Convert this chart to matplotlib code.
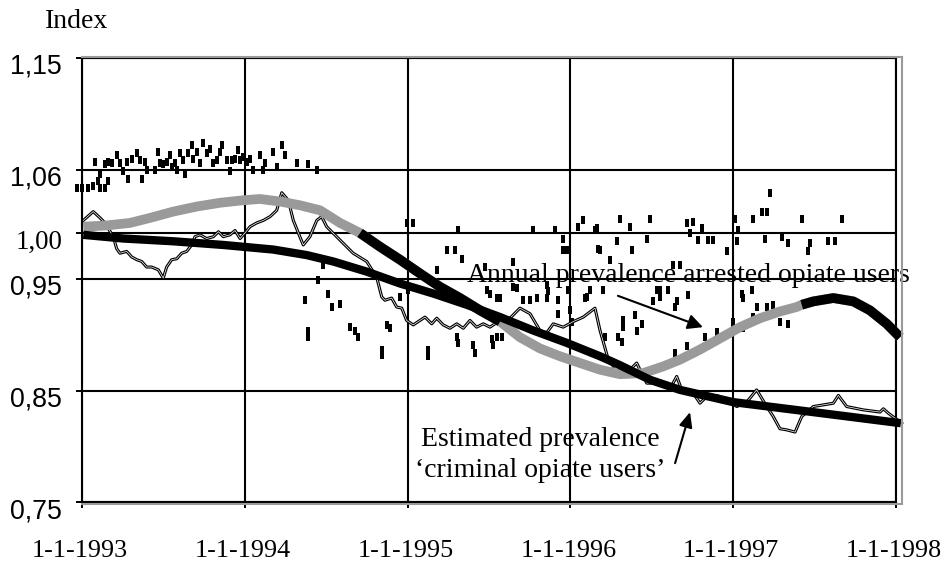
import numpy as np
import matplotlib
matplotlib.use("Agg")
import matplotlib.pyplot as plt
from matplotlib.transforms import ScaledTranslation

# ---------------- data ----------------
# y-axis tick values and their labels
tick_vals = [0.75, 0.85, 0.95, 1.00, 1.05, 1.15]
tick_labels = ["0,75", "0,85", "0,95", "1,00", "1,06", "1,15"]
# x-axis: start of each year
year_ticks = [1993, 1994, 1995, 1996, 1997, 1998]
year_labels = ["1-1-1993", "1-1-1994", "1-1-1995", "1-1-1996", "1-1-1997", "1-1-1998"]

# weekly index of arrests (scattered marks)
pts_t = [1992.967, 1992.998, 1993.039, 1993.070, 1993.100, 1993.111, 1993.141, 1993.162,
         1993.080, 1993.111, 1993.141, 1993.162, 1993.182, 1993.213, 1993.233, 1993.254,
         1993.278, 1993.284, 1993.305, 1993.336, 1993.356, 1993.367, 1993.387, 1993.397,
         1993.448, 1993.469, 1993.479, 1993.499, 1993.520, 1993.541, 1993.551, 1993.571,
         1993.582, 1993.602, 1993.622, 1993.633, 1993.653, 1993.674, 1993.684, 1993.704,
         1993.725, 1993.745, 1993.766, 1993.786, 1993.807, 1993.827, 1993.848, 1993.858,
         1993.889, 1993.909, 1993.919, 1993.940, 1993.960, 1993.971, 1993.991, 1994.012,
         1994.032, 1994.052, 1994.093, 1994.114, 1994.124, 1994.175, 1994.196, 1994.227,
         1994.247, 1994.319, 1994.390, 1994.442, 1994.482,
         1994.370, 1994.390, 1994.390, 1994.451, 1994.513, 1994.534, 1994.585, 1994.646,
         1994.677, 1994.697, 1994.872, 1994.892, 1994.841, 1994.841, 1994.953, 1994.994,
         1995.035, 1995.004, 1995.127, 1995.127, 1995.179, 1995.240, 1995.291, 1995.311,
         1995.332, 1995.302, 1995.311, 1995.404, 1995.414, 1995.475, 1995.486, 1995.506,
         1995.547, 1995.568, 1995.517, 1995.526, 1995.547, 1995.578, 1995.649, 1995.649,
         1995.670, 1995.711, 1995.752, 1995.772, 1995.793, 1995.854, 1995.864, 1995.854,
         1995.905, 1995.926, 1995.926, 1995.956, 1995.956, 1995.977, 1995.987, 1995.998,
         1996.008, 1996.049, 1996.079, 1996.100, 1996.120, 1996.151, 1996.171,
         1996.162, 1996.182, 1996.243, 1996.284, 1996.305, 1996.366, 1996.380, 1996.469,
         1996.489, 1996.550, 1996.550, 1996.601, 1996.632, 1996.673, 1996.653, 1996.643,
         1996.724, 1996.714, 1996.735, 1996.755, 1996.786, 1996.807, 1996.847, 1996.878,
         1996.960, 1997.011, 1997.022, 1997.031, 1997.052, 1997.062, 1997.114, 1997.123,
         1997.175, 1997.205, 1997.226, 1997.195, 1997.298, 1997.338, 1997.421, 1997.472,
         1997.461, 1997.584, 1997.625, 1997.666,
         1996.090, 1996.202, 1996.325, 1996.325, 1996.397, 1996.438, 1996.407, 1996.509,
         1996.530, 1996.294, 1996.315, 1996.213, 1996.827, 1996.899, 1996.714, 1996.643,
         1997.001, 1997.001, 1997.062, 1997.123, 1997.206, 1997.246, 1997.144, 1997.287,
         1997.338]
pts_v = [1.036, 1.036, 1.036, 1.037, 1.041, 1.036, 1.036, 1.041,
         1.057, 1.047, 1.055, 1.057, 1.056, 1.063, 1.056, 1.049,
         1.057, 1.043, 1.060, 1.065, 1.059, 1.043, 1.057, 1.050,
         1.050, 1.066, 1.056, 1.055, 1.057, 1.063, 1.053, 1.056,
         1.050, 1.065, 1.059, 1.047, 1.065, 1.072, 1.060, 1.066,
         1.056, 1.074, 1.065, 1.069, 1.056, 1.059, 1.066, 1.072,
         1.059, 1.049, 1.059, 1.060, 1.068, 1.059, 1.062, 1.057,
         1.060, 1.050, 1.063, 1.050, 1.056, 1.066, 1.053, 1.072,
         1.063, 1.056, 1.055, 1.050, 0.965,
         0.931, 0.904, 0.898, 0.949, 0.937, 0.925, 0.928, 0.907,
         0.904, 0.898, 0.909, 0.906, 0.887, 0.882, 0.934, 1.008,
         1.008, 0.940, 0.887, 0.881, 0.960, 0.982, 0.982, 1.002,
         0.972, 0.898, 0.893, 0.891, 0.884, 0.963, 0.940, 0.937,
         0.933, 0.933, 0.896, 0.891, 0.898, 0.898, 0.969, 0.943,
         0.942, 0.931, 0.931, 1.002, 0.933, 0.945, 0.939, 0.933,
         1.002, 0.931, 0.919, 0.994, 0.982, 0.982, 0.940, 0.922,
         0.912, 1.005, 1.010, 0.934, 0.940, 1.002, 0.983,
         1.004, 0.982, 0.971, 0.991, 1.011, 1.005, 0.982, 0.993,
         1.011, 0.940, 0.934, 0.940, 0.965, 0.965, 0.930, 0.925,
         0.936, 1.008, 1.000, 1.009, 0.992, 1.004, 0.992, 0.992,
         0.980, 1.011, 0.991, 1.002, 0.937, 0.933, 0.940, 1.011,
         1.017, 1.017, 1.032, 0.994, 0.996, 0.989, 1.011, 0.989,
         0.980, 0.991, 0.991, 1.011,
         0.933, 0.940, 0.907, 0.913, 0.918, 0.910, 0.904, 0.930,
         0.940, 0.898, 0.894, 0.898, 0.898, 0.903, 0.890, 0.884,
         0.912, 0.906, 0.906, 0.916, 0.925, 0.927, 0.925, 0.912,
         0.910]

# moving index of arrested opiate users (thin line)
thin_t = [1993.008, 1993.069, 1993.111, 1993.141, 1993.192, 1993.213, 1993.233, 1993.275,
          1993.305, 1993.336, 1993.367, 1993.397, 1993.428, 1993.469, 1993.499, 1993.520,
          1993.551, 1993.582, 1993.612, 1993.643, 1993.674, 1993.694, 1993.725, 1993.766,
          1993.807, 1993.838, 1993.868, 1993.909, 1993.940, 1993.971, 1994.001, 1994.032,
          1994.073, 1994.114, 1994.155, 1994.196, 1994.227, 1994.267, 1994.298, 1994.329,
          1994.359, 1994.400, 1994.442, 1994.472, 1994.503, 1994.564, 1994.626, 1994.666,
          1994.749, 1994.810, 1994.841, 1994.861, 1994.902, 1994.933, 1994.964, 1994.994,
          1995.035, 1995.076, 1995.107, 1995.148, 1995.179, 1995.219, 1995.260, 1995.302,
          1995.342, 1995.383, 1995.424, 1995.465, 1995.506, 1995.568, 1995.629, 1995.690,
          1995.752, 1995.813, 1995.854, 1995.895, 1995.956, 1996.018, 1996.079, 1996.151,
          1996.182, 1996.233, 1996.264, 1996.305, 1996.366, 1996.407, 1996.469, 1996.530,
          1996.612, 1996.653, 1996.684, 1996.755, 1996.796, 1996.837, 1996.899, 1996.960,
          1997.022, 1997.083, 1997.144, 1997.206, 1997.246, 1997.287, 1997.328, 1997.380,
          1997.421, 1997.492, 1997.615, 1997.646, 1997.697, 1997.799, 1997.902, 1997.922,
          1997.953, 1998.035]
thin_v = [1.010, 1.017, 1.012, 1.008, 0.996, 0.983, 0.978, 0.980,
          0.974, 0.971, 0.969, 0.963, 0.963, 0.960, 0.951, 0.963,
          0.971, 0.972, 0.978, 0.980, 0.987, 0.996, 0.998, 0.994,
          0.996, 1.001, 0.996, 0.998, 1.002, 0.994, 1.000, 1.005,
          1.008, 1.010, 1.013, 1.018, 1.032, 1.026, 1.010, 1.000,
          0.987, 0.996, 1.010, 1.013, 1.005, 0.996, 0.985, 0.978,
          0.969, 0.952, 0.934, 0.931, 0.933, 0.925, 0.924, 0.913,
          0.909, 0.913, 0.916, 0.910, 0.915, 0.909, 0.906, 0.910,
          0.906, 0.913, 0.907, 0.910, 0.907, 0.913, 0.915, 0.924,
          0.919, 0.904, 0.902, 0.910, 0.907, 0.912, 0.916, 0.924,
          0.904, 0.878, 0.872, 0.875, 0.869, 0.875, 0.857, 0.857,
          0.852, 0.863, 0.851, 0.848, 0.839, 0.845, 0.846, 0.842,
          0.836, 0.840, 0.851, 0.836, 0.827, 0.816, 0.815, 0.813,
          0.827, 0.836, 0.839, 0.846, 0.836, 0.833, 0.831, 0.834,
          0.830, 0.821]

# estimated prevalence of 'criminal opiate users'
crim_t = [1993.008, 1993.254, 1993.561, 1993.868, 1994.175, 1994.380, 1994.544, 1994.749,
          1994.953, 1995.158, 1995.363, 1995.568, 1995.772, 1995.977, 1996.182, 1996.305,
          1996.489, 1996.673, 1996.999, 1997.490, 1998.030]
crim_v = [0.998, 0.994, 0.991, 0.987, 0.982, 0.976, 0.969, 0.958,
          0.946, 0.937, 0.927, 0.916, 0.904, 0.893, 0.881, 0.873,
          0.860, 0.851, 0.840, 0.831, 0.821]

# annual prevalence of arrested opiate users
arr_t = [1993.008, 1993.152, 1993.295, 1993.418, 1993.561, 1993.705, 1993.848, 1993.991,
         1994.093, 1994.216, 1994.339, 1994.462, 1994.585, 1994.708, 1994.831, 1994.953,
         1995.076, 1995.199, 1995.322, 1995.445, 1995.568, 1995.690, 1995.813, 1995.936,
         1996.059, 1996.182, 1996.305, 1996.448, 1996.571, 1996.673, 1996.796, 1996.919,
         1997.042, 1997.165, 1997.287, 1997.390, 1997.421, 1997.492, 1997.615, 1997.738,
         1997.840, 1997.943, 1998.025]
arr_v = [1.005, 1.006, 1.008, 1.012, 1.017, 1.021, 1.024, 1.026,
         1.027, 1.025, 1.022, 1.018, 1.008, 1.000, 0.985, 0.971,
         0.956, 0.943, 0.933, 0.922, 0.912, 0.898, 0.888, 0.881,
         0.875, 0.869, 0.865, 0.866, 0.872, 0.878, 0.887, 0.897,
         0.907, 0.915, 0.921, 0.925, 0.927, 0.930, 0.933, 0.930,
         0.922, 0.910, 0.898]
# periods where the annual series is drawn in black
dark_spans = [(1994.70, 1995.60), (1997.41, 1998.05)]

# ---------------- figure ----------------
SERIF = ["Liberation Serif", "DejaVu Serif"]
SANS = ["Liberation Sans", "DejaVu Sans"]
FS_YTICK = 19.3
FS_XTICK = 18.8
FS_TEXT = 20

fig = plt.figure(figsize=(9.44, 5.65), dpi=100)
W, H = 944, 565
ax = fig.add_axes([82 / W, 1 - 502 / H, (896 - 82) / W, (502 - 58) / H])

# y axis: gridlines placed at their drawn heights
grid_pos = [0, 111, 223, 269, 332, 444]


def fwd(y):
    return np.interp(y, tick_vals, grid_pos)


def inv(p):
    return np.interp(p, grid_pos, tick_vals)


ax.set_yscale("function", functions=(fwd, inv))
ax.set_ylim(0.75, 1.15)
ax.set_xlim(1993, 1998)
ax.set_yticks(tick_vals)
ax.set_xticks(year_ticks)
ax.set_yticklabels([])
ax.set_xticklabels([])
ax.tick_params(axis="y", direction="inout", length=9, width=1.4, color="black")
ax.tick_params(axis="x", direction="out", length=4, width=1.4, color="black")
ax.grid(True, color="black", linewidth=1.5)
ax.set_axisbelow(True)
for s in ax.spines.values():
    s.set_linewidth(1.5)
    s.set_color("black")

# scattered weekly marks
bar = [(-0.2, -0.5), (0.2, -0.5), (0.2, 0.5), (-0.2, 0.5)]
ax.plot(pts_t, pts_v, linestyle="none", marker=bar, markersize=5.5,
        color="black", markeredgewidth=0, clip_on=False, zorder=3)

# thin double line
ax.plot(thin_t, thin_v, color="black", linewidth=2.2, clip_on=False, zorder=4)
ax.plot(thin_t, thin_v, color="white", linewidth=0.5, clip_on=False, zorder=4.1)

# annual prevalence (gray, partly black)
ax.plot(arr_t, arr_v, color="#9a9a9a", linewidth=7, solid_capstyle="butt",
        solid_joinstyle="round", clip_on=False, zorder=5)
at = np.array(arr_t)
av = np.array(arr_v)
for lo, hi in dark_spans:
    m = (at >= lo) & (at <= hi)
    ax.plot(at[m], av[m], color="black", linewidth=7, solid_capstyle="butt",
            solid_joinstyle="round", clip_on=False, zorder=5.1)

# estimated prevalence (thick black)
ax.plot(crim_t, crim_v, color="black", linewidth=6, solid_capstyle="butt",
        solid_joinstyle="round", clip_on=False, zorder=6)

# y tick labels (drawn below their gridlines)
ytr = ax.get_yaxis_transform() + ScaledTranslation(-0.20, -0.09, fig.dpi_scale_trans)
for v, lab in zip(tick_vals, tick_labels):
    fam = SERIF if lab == "1,00" else SANS
    ax.text(0, v, lab, transform=ytr, ha="right", va="center",
            fontsize=FS_YTICK, family=fam, color="black")

# x tick labels
xtr = ax.get_xaxis_transform() + ScaledTranslation(-0.02, -0.49, fig.dpi_scale_trans)
for t, lab in zip(year_ticks, year_labels):
    ax.text(t, 0, lab, transform=xtr, ha="center", va="center",
            fontsize=FS_XTICK, family=SERIF, color="black", clip_on=False)

# axis title
fig.text(45 / W, 1 - 22 / H, "Index", ha="left", va="center",
         fontsize=FS_TEXT, family=SERIF)

# annotations
ax.text(1995.365, 0.947, "Annual prevalence arrested opiate users",
        ha="left", va="baseline", fontsize=FS_TEXT, family=SERIF, zorder=7)
ax.annotate("", xy=(1996.814, 0.907), xytext=(1996.292, 0.935),
            arrowprops=dict(arrowstyle="-|>,head_length=0.9,head_width=0.45",
                            color="black", lw=1.5, shrinkA=0, shrinkB=0), zorder=7)
ax.text(1995.082, 0.800, "Estimated prevalence", ha="left", va="baseline",
        fontsize=FS_TEXT, family=SERIF, zorder=7)
ax.text(1995.045, 0.7725, "\u2018criminal opiate users\u2019", ha="left", va="baseline",
        fontsize=FS_TEXT, family=SERIF, zorder=7)
ax.annotate("", xy=(1996.735, 0.831), xytext=(1996.643, 0.785),
            arrowprops=dict(arrowstyle="-|>,head_length=0.9,head_width=0.4",
                            color="black", lw=1.5, shrinkA=0, shrinkB=0), zorder=7)

# gray shadow frame
fig.add_artist(plt.Line2D([82 / W, 902 / W], [1 - 57 / H, 1 - 57 / H],
                          color="#9a9a9a", lw=1.5))
fig.add_artist(plt.Line2D([902 / W, 902 / W], [1 - 57 / H, 1 - 504 / H],
                          color="#9a9a9a", lw=1.5))
fig.add_artist(plt.Line2D([82 / W, 902 / W], [1 - 504 / H, 1 - 504 / H],
                          color="#9a9a9a", lw=1.5))

fig.savefig("out.png", dpi=100)
